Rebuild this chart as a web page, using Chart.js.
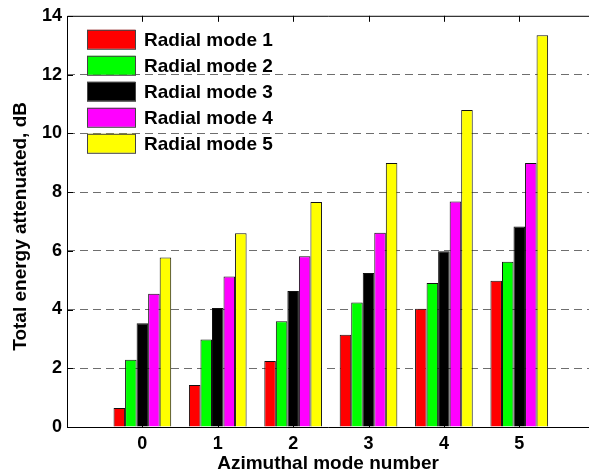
<!DOCTYPE html>
<html>
<head>
<meta charset="utf-8">
<script src="https://cdn.jsdelivr.net/npm/chart.js@4.4.1/dist/chart.umd.min.js"></script>
<style>
    html, body { margin: 0; padding: 0; background: #fff; overflow: hidden; }
</style>
</head>
<body>
<canvas id="barChart" width="589" height="475"></canvas>
<script>
// azimuthal mode numbers (x positions)
const azimuthalModes = [0, 1, 2, 3, 4, 5];
const radialLabels = ['Radial mode 1', 'Radial mode 2', 'Radial mode 3', 'Radial mode 4', 'Radial mode 5'];
const radialColors = ['#ff0000', '#00ff00', '#000000', '#ff00ff', '#ffff00'];

// total energy attenuated, dB
const radial1 = [0.65, 1.43, 2.25, 3.14, 4.03, 4.98];
const radial2 = [2.29, 2.98, 3.60, 4.24, 4.90, 5.63];
const radial3 = [3.53, 4.05, 4.63, 5.24, 5.98, 6.83];
const radial4 = [4.54, 5.12, 5.81, 6.61, 7.68, 8.99];
const radial5 = [5.77, 6.60, 7.66, 8.99, 10.79, 13.34];

const yTicks = [0, 2, 4, 6, 8, 10, 12, 14];
const yTitle = 'Total energy attenuated, dB';

const FONT = 'Liberation Sans, Arial, sans-serif';
const series = [radial1, radial2, radial3, radial4, radial5];

// frame (the right side is cut off in the original), inward ticks, y title and legend
const framePlugin = {
    id: 'frame',
    afterDatasetsDraw(chart) {
        const { ctx, chartArea: a, scales } = chart;
        ctx.save();
        ctx.strokeStyle = '#000';
        ctx.lineWidth = 1;
        ctx.beginPath();
        ctx.moveTo(a.right, a.top + 0.5);
        ctx.lineTo(a.left + 0.5, a.top + 0.5);
        ctx.lineTo(a.left + 0.5, a.bottom + 0.5);
        ctx.lineTo(a.right, a.bottom + 0.5);

        azimuthalModes.forEach(m => {
            const x = Math.round(scales.x.getPixelForValue(m)) + 0.5;
            ctx.moveTo(x, a.top);
            ctx.lineTo(x, a.top + 6);
            ctx.moveTo(x, a.bottom);
            ctx.lineTo(x, a.bottom - 6);
        });
        yTicks.forEach(v => {
            const y = Math.round(scales.y.getPixelForValue(v)) + 0.5;
            ctx.moveTo(a.left, y);
            ctx.lineTo(a.left + 6, y);
        });
        ctx.stroke();

        // y axis title, sits a little below the middle of the axis in the original
        ctx.font = 'bold 19px ' + FONT;
        ctx.fillStyle = '#000';
        ctx.textAlign = 'center';
        ctx.textBaseline = 'middle';
        ctx.save();
        ctx.translate(21, (a.top + a.bottom) / 2 + 5);
        ctx.rotate(-Math.PI / 2);
        ctx.fillText(yTitle, 0, 0);
        ctx.restore();

        // legend
        ctx.textAlign = 'left';
        chart.data.datasets.forEach((ds, i) => {
            const x = a.left + 20;
            const y = a.top + 14 + i * 26;
            ctx.fillStyle = ds.backgroundColor;
            ctx.fillRect(x, y, 48, 19);
            ctx.strokeStyle = '#444';
            ctx.strokeRect(x + 0.5, y + 0.5, 48, 19);
            ctx.fillStyle = '#000';
            ctx.fillText(ds.label, x + 57, y + 11);
        });
        ctx.restore();
    }
};

new Chart(document.getElementById('barChart'), {
    type: 'bar',
    data: {
        datasets: series.map((vals, i) => ({
            label: radialLabels[i],
            data: azimuthalModes.map((m, j) => ({ x: m, y: vals[j] })),
            backgroundColor: radialColors[i],
            borderColor: '#111',
            borderWidth: 1,
            borderSkipped: 'bottom',
            categoryPercentage: 0.765,
            barPercentage: 1.0
        }))
    },
    options: {
        responsive: false,
        animation: false,
        layout: { padding: { top: 15, right: 0, left: 0, bottom: 0 } },
        plugins: {
            legend: { display: false },
            tooltip: { enabled: false }
        },
        scales: {
            x: {
                type: 'linear',
                min: -1,
                max: 5.925,   // axis runs to 6, but the picture is cropped just before it
                offset: false,
                afterFit: s => { s.height = 48; },
                afterBuildTicks: s => { s.ticks = azimuthalModes.map(v => ({ value: v })); },
                grid: { display: false, drawTicks: false },
                border: { display: false },
                ticks: {
                    color: '#000',
                    padding: 6,
                    font: { family: FONT, size: 18, weight: 'bold' }
                },
                title: {
                    display: true,
                    text: 'Azimuthal mode number',
                    color: '#000',
                    padding: { top: 0, bottom: 0 },
                    font: { family: FONT, size: 19, weight: 'bold' }
                }
            },
            y: {
                min: 0,
                max: 14,
                afterFit: s => { s.width = 67; },
                afterBuildTicks: s => { s.ticks = yTicks.map(v => ({ value: v })); },
                grid: {
                    color: ctx => (ctx.tick && (ctx.tick.value === 0 || ctx.tick.value === 14)) ? 'rgba(0,0,0,0)' : '#6e6e6e',
                    lineWidth: 1,
                    drawTicks: false
                },
                border: { display: false, dash: [8, 5] },
                ticks: {
                    color: '#000',
                    padding: 5,
                    font: { family: FONT, size: 18, weight: 'bold' }
                }
            }
        }
    },
    plugins: [framePlugin]
});
</script>
</body>
</html>
